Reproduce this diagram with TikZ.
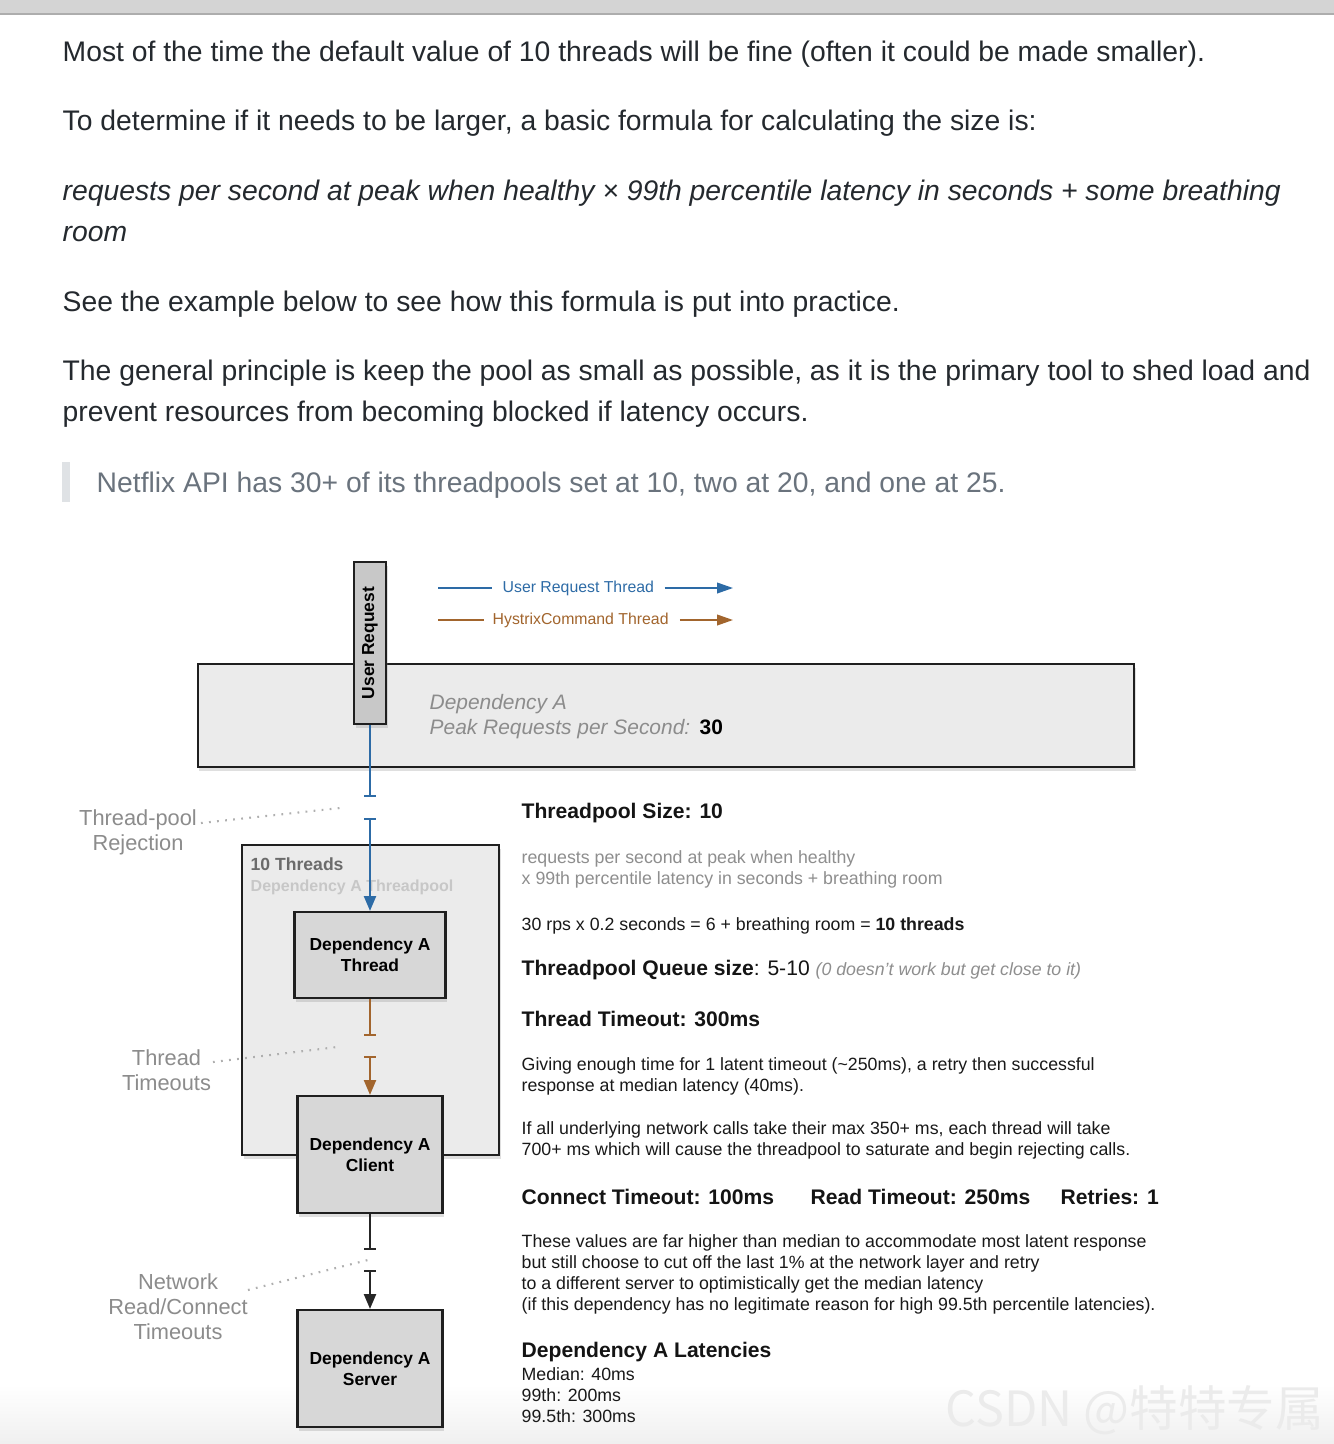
\documentclass[tikz,border=0pt]{standalone}
\usepackage{fontspec}
\setmainfont{Liberation Sans}
\newfontfamily\cjk{Noto Sans CJK SC}
\usetikzlibrary{arrows.meta,shadows}
\definecolor{bodytxt}{HTML}{24292E}
\definecolor{quotetxt}{HTML}{6A737D}
\definecolor{quotebar}{HTML}{DFE2E5}
\definecolor{userblue}{HTML}{2D6BA6}
\definecolor{cmdbrown}{HTML}{A2652D}
\definecolor{lblgray}{HTML}{8C8C8C}
\definecolor{notegray}{HTML}{8E8E8E}
\definecolor{panelgray}{HTML}{EBEBEB}
\definecolor{boxgray}{HTML}{D7D7D7}
\definecolor{ureqgray}{HTML}{C8C8C8}
\tikzset{
  bodyline/.style={anchor=base west,inner sep=0,text=bodytxt,font=\fontsize{8.05}{10}\selectfont},
  noteline/.style={anchor=base west,inner sep=0,text=black!90,font=\fontsize{5.05}{6}\selectfont},
  notehead/.style={anchor=base west,inner sep=0,text=black!92,font=\fontsize{6}{7}\selectfont\bfseries},
  sidelabel/.style={align=center,inner sep=0,text=lblgray,font=\fontsize{6.2}{7.1}\selectfont},
  legtext/.style={anchor=west,inner sep=0,font=\fontsize{4.5}{5}\selectfont},
  panel/.style={draw=black!88,line width=0.6pt,fill=#1,drop shadow={shadow xshift=0.5pt,shadow yshift=-1.2pt,opacity=0.25}},
  depbox/.style={panel=boxgray,align=center,inner sep=0,font=\fontsize{4.95}{6}\selectfont\bfseries},
  flowline/.style={line width=0.6pt},
  gapend/.style={-{Bar[width=3.4pt]}},
  gapstart/.style={{Bar[width=3.4pt]}-{Triangle[length=4.2pt,width=3.4pt]}},
  legarrow/.style={line width=0.5pt,-{Triangle[length=4.5pt,width=3pt]}},
  dotline/.style={draw=lblgray!70,line width=0.6pt,dash pattern=on 0.5pt off 1.8pt}
}
\begin{document}
\begin{tikzpicture}[x=0.01cm,y=-0.01cm]
\useasboundingbox (0,0) rectangle (1334,1444);
\fill[white] (0,0) rectangle (1334,1444);
\shade[top color=white,bottom color=black!6] (0,1385) rectangle (1334,1444);
\fill[black!17] (0,0) rectangle (1334,14);
\draw[black!32,line width=0.5pt] (0,14) -- (1334,14);

\node[bodyline] (intro1) at (62,61) {Most of the time the default value of 10 threads will be fine (often it could be made smaller).};
\node[bodyline] (intro2) at (62,130) {To determine if it needs to be larger, a basic formula for calculating the size is:};
\node[bodyline,font=\fontsize{8.05}{10}\selectfont\itshape] (formula1) at (62,200) {requests per second at peak when healthy × 99th percentile latency in seconds + some breathing};
\node[bodyline,font=\fontsize{8.05}{10}\selectfont\itshape] (formula2) at (62,241) {room};
\node[bodyline] (intro3) at (62,311) {See the example below to see how this formula is put into practice.};
\node[bodyline] (intro4) at (62,380) {The general principle is keep the pool as small as possible, as it is the primary tool to shed load and};
\node[bodyline] (intro5) at (62,421) {prevent resources from becoming blocked if latency occurs.};
\fill[quotebar] (62,462) rectangle (70,502);
\node[bodyline,text=quotetxt] (quote) at (96,492) {Netflix API has 30+ of its threadpools set at 10, two at 20, and one at 25.};

\node[legtext,text=userblue] (legu) at (502,588) {User Request Thread};
\coordinate (legus) at (438,588);
\coordinate (legue) at (733,588);
\draw[userblue,line width=0.5pt] (legus) -- ([xshift=-2.8pt]legu.west);
\draw[userblue,legarrow] ([xshift=2.8pt]legu.east) -- (legue);
\node[legtext,text=cmdbrown] (legc) at (492,620) {HystrixCommand Thread};
\coordinate (legcs) at (438,620);
\coordinate (legce) at (733,620);
\draw[cmdbrown,line width=0.5pt] (legcs) -- ([xshift=-2.3pt]legc.west);
\draw[cmdbrown,legarrow] ([xshift=3pt]legc.east) -- (legce);

\node[panel=panelgray,minimum width=9.36cm,minimum height=1.03cm,inner sep=0] (depa) at (666,715.5) {};
\node[anchor=base west,inner sep=0,text=black!45,font=\fontsize{5.95}{7}\selectfont\itshape] (depname) at (429,709) {Dependency A};
\node[anchor=base west,inner sep=0,text=black!45,font=\fontsize{5.95}{7}\selectfont\itshape] (deppeak) at (429,734) {Peak Requests per Second:\hspace{0.45em}{\upshape\bfseries\color{black}30}};
\node[panel=ureqgray,rotate=90,minimum width=1.62cm,minimum height=0.32cm,inner sep=0,font=\fontsize{4.95}{6}\selectfont\bfseries] (ureq) at (370,643) {User Request};

\node[panel=panelgray,minimum width=2.57cm,minimum height=3.10cm,inner sep=0] (pool) at (370.5,1000) {};
\node[anchor=base west,inner sep=0,text=black!58,font=\fontsize{5}{6}\selectfont\bfseries] (poolsize) at (250,870) {10 Threads};
\node[anchor=base west,inner sep=0,text=black!22,font=\fontsize{4.55}{6}\selectfont\bfseries] (poolname) at (250,891) {Dependency A Threadpool};
\node[depbox,minimum width=1.51cm,minimum height=0.86cm] (dthread) at (370,955) {Dependency A\\Thread};
\node[depbox,minimum width=1.45cm,minimum height=1.17cm] (client) at (370,1154.5) {Dependency A\\Client};
\node[depbox,minimum width=1.45cm,minimum height=1.17cm] (server) at (370,1368.5) {Dependency A\\Server};

\coordinate (rejtop) at (370,797);
\coordinate (rejbot) at (370,818);
\coordinate (totop) at (370,1036);
\coordinate (tobot) at (370,1056);
\coordinate (nettop) at (370,1250);
\coordinate (netbot) at (370,1270);
\draw[flowline,userblue,gapend] (ureq.west) -- (rejtop);
\draw[flowline,userblue,gapstart] (rejbot) -- (dthread.north);
\draw[flowline,cmdbrown,gapend] (dthread.south) -- (totop);
\draw[flowline,cmdbrown,gapstart] (tobot) -- (client.north);
\draw[flowline,black!85,gapend] (client.south) -- (nettop);
\draw[flowline,black!85,gapstart] (netbot) -- (server.north);

\node[sidelabel] (rejlbl) at (138,832.5) {Thread-pool\\Rejection};
\node[sidelabel] (tolbl) at (166.5,1070.5) {Thread\\Timeouts};
\node[sidelabel] (netlbl) at (178,1306.5) {Network\\Read/Connect\\Timeouts};
\coordinate (rejdot1) at (201,823);
\coordinate (rejdot2) at (340,808);
\coordinate (todot1) at (213,1062);
\coordinate (todot2) at (337,1047);
\coordinate (netdot1) at (248,1290);
\coordinate (netdot2) at (368,1260);
\draw[dotline] (rejdot1) -- (rejdot2);
\draw[dotline] (todot1) -- (todot2);
\draw[dotline] (netdot1) -- (netdot2);

\node[notehead] (sizehead) at (521,818) {Threadpool Size: 10};
\node[noteline,text=notegray] (sizerule1) at (521,863) {requests per second at peak when healthy};
\node[noteline,text=notegray] (sizerule2) at (521,884) {x 99th percentile latency in seconds + breathing room};
\node[noteline] (sizecalc) at (521,930) {30 rps x 0.2 seconds = 6 + breathing room = \textbf{10 threads}};
\node[notehead] (queuehead) at (521,975) {Threadpool Queue size\mdseries: 5-10 {\fontsize{5.05}{6}\selectfont\itshape\color{notegray}(0 doesn't work but get close to it)}};
\node[notehead] (tohead) at (521,1026) {Thread Timeout: 300ms};
\node[noteline] (tonote1) at (521,1070) {Giving enough time for 1 latent timeout (\textasciitilde250ms), a retry then successful};
\node[noteline] (tonote2) at (521,1091) {response at median latency (40ms).};
\node[noteline] (tonote3) at (521,1134) {If all underlying network calls take their max 350+ ms, each thread will take};
\node[noteline] (tonote4) at (521,1155) {700+ ms which will cause the threadpool to saturate and begin rejecting calls.};
\node[notehead] (connhead) at (521,1204) {Connect Timeout: 100ms};
\node[notehead] (readhead) at (810,1204) {Read Timeout: 250ms};
\node[notehead] (retryhead) at (1060,1204) {Retries: 1};
\node[noteline] (netnote1) at (521,1247) {These values are far higher than median to accommodate most latent response};
\node[noteline] (netnote2) at (521,1268) {but still choose to cut off the last 1\% at the network layer and retry};
\node[noteline] (netnote3) at (521,1289) {to a different server to optimistically get the median latency};
\node[noteline] (netnote4) at (521,1310) {(if this dependency has no legitimate reason for high 99.5th percentile latencies).};
\node[notehead] (lathead) at (521,1357) {Dependency A Latencies};
\node[noteline] (lat1) at (521,1380) {Median: 40ms};
\node[noteline] (lat2) at (521,1401) {99th: 200ms};
\node[noteline] (lat3) at (521,1422) {99.5th: 300ms};

\node[anchor=base west,inner sep=0,text=black!8,font=\cjk\fontsize{13.8}{15}\selectfont] (mark) at (945,1426) {CSDN @特特专属};
\end{tikzpicture}
\end{document}
